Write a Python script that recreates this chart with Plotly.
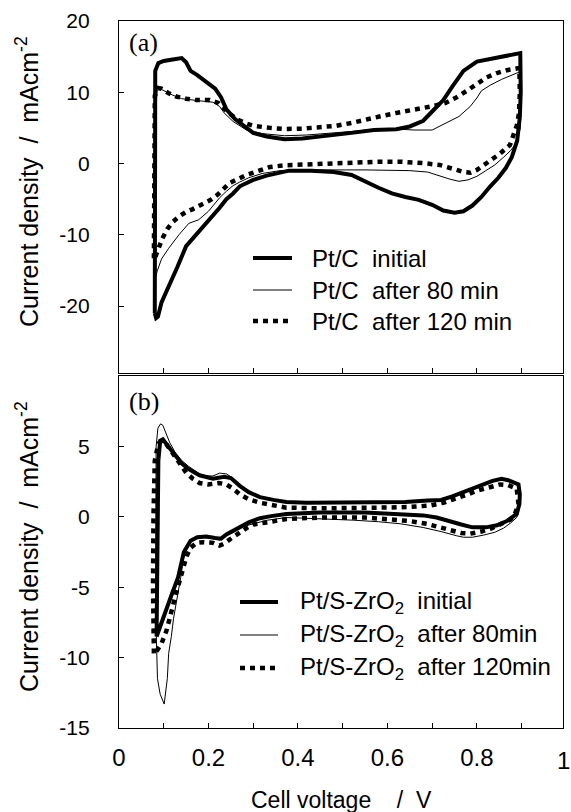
import plotly.graph_objects as go

# Cyclic voltammograms, (cell voltage / V, current density / mA cm^-2), closed loops
ptc_initial = [(0.080,-21.0),(0.080,-12.0),(0.080,0.0),(0.080,8.0),(0.081,13.0),(0.088,14.1),(0.100,14.4),(0.120,14.6),
               (0.140,14.8),(0.150,14.2),(0.160,13.0),(0.175,12.4),(0.195,11.5),(0.215,10.5),(0.228,9.3),(0.240,7.6),
               (0.260,6.2),(0.280,5.2),(0.300,4.3),(0.330,3.8),(0.370,3.4),(0.410,3.5),(0.460,3.8),(0.520,4.3),
               (0.570,4.7),(0.620,4.8),(0.650,5.2),(0.680,6.0),(0.700,7.3),(0.725,8.9),(0.745,10.8),(0.770,13.0),
               (0.800,14.3),(0.840,14.8),(0.870,15.1),(0.897,15.5),(0.898,10.0),(0.896,6.5),(0.890,3.2),(0.878,0.9),
               (0.865,-0.6),(0.848,-2.0),(0.830,-3.2),(0.810,-4.7),(0.790,-5.9),(0.770,-6.7),(0.750,-6.9),(0.725,-6.6),
               (0.700,-5.8),(0.670,-5.1),(0.640,-4.7),(0.610,-4.2),(0.580,-3.4),(0.550,-2.5),(0.520,-1.6),(0.480,-1.2),
               (0.430,-1.0),(0.380,-1.0),(0.330,-1.7),(0.300,-2.3),(0.270,-3.2),(0.255,-4.2),(0.240,-5.0),(0.225,-6.2),
               (0.210,-7.3),(0.195,-8.5),(0.175,-9.8),(0.150,-11.6),(0.130,-14.6),(0.110,-17.3),(0.095,-19.5),
               (0.087,-21.5),(0.083,-21.7),(0.080,-21.0)]

ptc_80min = [(0.082,-15.8),(0.081,-10.0),(0.081,0.0),(0.082,8.0),(0.086,10.6),(0.095,10.4),(0.120,9.6),(0.140,9.1),
             (0.180,8.8),(0.210,8.6),(0.225,8.0),(0.235,7.1),(0.255,5.9),(0.285,4.7),(0.320,4.2),(0.370,3.9),
             (0.420,4.0),(0.470,4.2),(0.520,4.5),(0.570,4.8),(0.600,4.9),(0.630,4.8),(0.660,4.7),(0.700,4.7),
             (0.730,5.6),(0.760,6.6),(0.785,8.0),(0.800,9.2),(0.810,10.2),(0.830,11.0),(0.855,11.8),(0.875,12.3),
             (0.897,12.9),(0.898,9.0),(0.897,5.0),(0.890,3.0),(0.875,1.8),(0.860,0.9),(0.840,-0.2),(0.820,-1.0),
             (0.800,-1.8),(0.780,-2.3),(0.760,-2.5),(0.740,-2.2),(0.715,-1.7),(0.690,-1.2),(0.650,-1.0),(0.610,-0.95),
             (0.550,-0.9),(0.450,-0.9),(0.400,-0.9),(0.360,-1.0),(0.320,-1.4),(0.290,-2.0),(0.270,-2.6),(0.255,-3.1),
             (0.240,-3.9),(0.225,-4.8),(0.200,-6.7),(0.178,-7.9),(0.156,-8.4),(0.134,-10.0),(0.111,-11.9),
             (0.095,-13.4),(0.086,-15.0),(0.082,-15.8)]

ptc_120min = [(0.078,-13.3),(0.078,-5.0),(0.078,5.0),(0.080,9.5),(0.088,10.6),(0.095,10.5),(0.110,9.9),(0.128,9.4),
              (0.150,9.1),(0.173,8.9),(0.203,8.9),(0.222,8.5),(0.240,7.4),(0.263,6.2),(0.285,5.6),(0.300,5.3),
              (0.337,5.0),(0.370,4.85),(0.412,4.9),(0.450,5.05),(0.486,5.3),(0.520,5.7),(0.561,6.2),(0.590,6.7),
              (0.620,7.1),(0.650,7.4),(0.680,7.8),(0.705,8.1),(0.730,8.5),(0.755,9.3),(0.780,10.3),(0.800,11.2),
              (0.822,12.1),(0.845,12.7),(0.867,13.1),(0.895,13.4),(0.896,10.0),(0.894,7.0),(0.889,5.3),(0.880,3.7),
              (0.874,2.6),(0.852,1.4),(0.822,0.05),(0.800,-0.9),(0.785,-1.3),(0.770,-1.2),(0.755,-0.9),(0.735,-0.5),
              (0.717,-0.2),(0.680,0.05),(0.630,0.25),(0.580,0.25),(0.524,0.14),(0.470,0.05),(0.412,-0.05),
              (0.370,-0.25),(0.337,-0.5),(0.310,-1.0),(0.285,-1.6),(0.265,-2.2),(0.248,-2.7),(0.233,-3.6),
              (0.220,-4.4),(0.205,-5.1),(0.185,-5.8),(0.165,-6.4),(0.150,-6.8),(0.135,-7.4),(0.120,-8.2),
              (0.108,-9.2),(0.097,-10.5),(0.090,-11.6),(0.085,-12.8),(0.080,-13.3),(0.078,-13.3)]

pts_initial = [(0.084,-8.5),(0.086,-4.0),(0.087,0.0),(0.088,4.0),(0.092,5.4),(0.098,5.5),(0.110,5.0),(0.125,4.4),
               (0.140,3.8),(0.155,3.4),(0.180,2.95),(0.210,2.7),(0.235,2.85),(0.250,2.75),(0.270,2.2),(0.290,1.75),
               (0.315,1.4),(0.345,1.2),(0.374,1.05),(0.420,1.0),(0.500,1.0),(0.580,1.0),(0.640,1.05),(0.690,1.15),
               (0.720,1.2),(0.745,1.45),(0.765,1.7),(0.790,2.0),(0.810,2.2),(0.835,2.55),(0.855,2.7),(0.870,2.6),
               (0.893,2.3),(0.896,1.6),(0.895,0.9),(0.889,0.2),(0.867,-0.3),(0.845,-0.6),(0.820,-0.75),(0.790,-0.75),
               (0.765,-0.55),(0.740,-0.3),(0.710,-0.05),(0.680,0.1),(0.630,0.2),(0.550,0.3),(0.450,0.3),(0.374,0.2),
               (0.340,0.05),(0.315,-0.1),(0.290,-0.4),(0.270,-0.7),(0.255,-1.0),(0.240,-1.25),(0.228,-1.55),
               (0.215,-1.5),(0.195,-1.4),(0.175,-1.45),(0.160,-1.7),(0.145,-2.5),(0.132,-4.3),(0.118,-5.5),
               (0.104,-6.8),(0.094,-7.6),(0.088,-8.2),(0.084,-8.5)]

pts_80min = [(0.101,-13.3),(0.092,-12.6),(0.086,-11.5),(0.083,-8.0),(0.082,-3.0),(0.082,2.0),(0.083,5.0),(0.087,6.3),
             (0.093,6.6),(0.098,6.5),(0.105,6.0),(0.113,5.3),(0.125,4.6),(0.140,4.0),(0.155,3.6),(0.180,3.05),
             (0.195,2.9),(0.210,2.9),(0.225,3.1),(0.240,3.05),(0.255,2.75),(0.270,2.3),(0.290,1.8),(0.315,1.45),
             (0.345,1.2),(0.374,1.05),(0.420,1.0),(0.500,1.0),(0.580,1.0),(0.640,1.05),(0.690,1.1),(0.720,1.2),
             (0.745,1.4),(0.765,1.7),(0.790,2.0),(0.810,2.2),(0.835,2.55),(0.855,2.7),(0.870,2.6),(0.893,2.2),
             (0.896,1.1),(0.893,0.3),(0.889,-0.05),(0.875,-0.45),(0.860,-0.8),(0.840,-1.1),(0.815,-1.3),
             (0.790,-1.45),(0.770,-1.45),(0.755,-1.35),(0.720,-1.05),(0.680,-0.76),(0.630,-0.5),(0.580,-0.35),
             (0.524,-0.24),(0.450,-0.12),(0.374,-0.05),(0.330,-0.25),(0.300,-0.5),(0.270,-0.75),(0.250,-1.1),
             (0.235,-1.4),(0.225,-1.65),(0.210,-1.55),(0.190,-1.45),(0.175,-1.45),(0.165,-1.6),(0.155,-2.0),
             (0.145,-2.8),(0.138,-4.3),(0.130,-5.8),(0.122,-7.2),(0.117,-8.5),(0.111,-9.7),(0.108,-11.5),
             (0.105,-12.5),(0.101,-13.3)]

pts_120min = [(0.078,-9.7),(0.076,-5.0),(0.077,0.0),(0.080,4.0),(0.088,5.2),(0.096,5.4),(0.105,5.2),(0.121,4.5),
              (0.135,3.8),(0.151,3.1),(0.165,2.7),(0.180,2.4),(0.200,2.3),(0.223,2.4),(0.240,2.3),(0.255,2.0),
              (0.270,1.6),(0.290,1.25),(0.315,1.0),(0.345,0.8),(0.374,0.65),(0.450,0.6),(0.550,0.6),(0.606,0.66),
              (0.650,0.7),(0.695,0.8),(0.725,1.0),(0.755,1.3),(0.780,1.6),(0.800,1.85),(0.825,2.1),(0.852,2.3),
              (0.870,2.25),(0.889,2.0),(0.893,0.9),(0.885,0.2),(0.875,-0.2),(0.852,-0.55),(0.830,-0.85),
              (0.810,-1.05),(0.785,-1.2),(0.765,-1.15),(0.745,-1.0),(0.720,-0.8),(0.688,-0.5),(0.650,-0.3),
              (0.606,-0.16),(0.550,-0.05),(0.450,-0.05),(0.374,-0.16),(0.330,-0.4),(0.300,-0.55),(0.285,-0.8),
              (0.265,-1.2),(0.248,-1.6),(0.235,-1.9),(0.225,-2.05),(0.210,-1.85),(0.190,-1.8),(0.173,-1.85),
              (0.160,-2.2),(0.151,-2.8),(0.143,-3.6),(0.136,-4.5),(0.128,-5.4),(0.121,-6.2),(0.113,-7.1),
              (0.106,-8.1),(0.095,-9.0),(0.085,-9.5),(0.078,-9.7)]

labels_a = ["Pt/C\u00a0\u00a0initial", "Pt/C\u00a0\u00a0after 80 min", "Pt/C\u00a0\u00a0after 120 min"]
labels_b = ["Pt/S-ZrO<sub>2</sub>\u00a0\u00a0initial", "Pt/S-ZrO<sub>2</sub>\u00a0\u00a0after 80min",
            "Pt/S-ZrO<sub>2</sub>\u00a0\u00a0after 120min"]

x_tickvals = [0, 0.2, 0.4, 0.6, 0.8]
x_ticktext = ["0", "0.2", "0.4", "0.6", "0.8"]
x_minorvals = [0.1, 0.3, 0.5, 0.7, 0.9]
x_last_label = "1"
ya_tickvals = [-20, -10, 0, 10, 20]
ya_ticktext = ["-20", "-10", "0", "10", "20"]
yb_tickvals = [-15, -10, -5, 0, 5]
yb_ticktext = ["-15", "-10", "-5", "0", "5"]

SANS = "Liberation Sans, Arial, sans-serif"
SERIF = "Liberation Serif, Times New Roman, serif"

styles = [
    dict(color="black", width=4),                    # initial
    dict(color="black", width=1),                    # after 80 min
    dict(color="black", width=4.5, dash="5px,5px"),  # after 120 min
]

fig = go.Figure()


def add_loop(pairs, style, xa, ya):
    xs = [p[0] for p in pairs]
    ys = [p[1] for p in pairs]
    fig.add_trace(go.Scatter(x=xs, y=ys, mode="lines", line=style,
                             xaxis=xa, yaxis=ya, showlegend=False, hoverinfo="skip"))


for pairs, st in zip([ptc_80min, ptc_120min, ptc_initial], [styles[1], styles[2], styles[0]]):
    add_loop(pairs, st, "x", "y")
for pairs, st in zip([pts_80min, pts_120min, pts_initial], [styles[1], styles[2], styles[0]]):
    add_loop(pairs, st, "x2", "y2")

W, H = 571, 812
L, R, T, B = 119, 8, 21, 84
ph = H - T - B
dom_b_top = (H - B - 376) / ph
dom_a_bot = (H - B - 373) / ph
pw = W - L - R
x_range = [0, 0.9925]


def px_x(px):
    return (px - L) / pw


def px_y(py):
    return (H - B - py) / ph


axis_common = dict(showline=True, linecolor="black", linewidth=1.2, mirror=True,
                   ticks="inside", ticklen=5, tickcolor="black", tickwidth=1,
                   showgrid=False, zeroline=False)
x_minor = dict(tickvals=x_minorvals, ticks="inside", ticklen=5, tickcolor="black",
               tickwidth=1, showgrid=False)

fig.update_layout(
    width=W, height=H,
    margin=dict(l=L, r=R, t=T, b=B, pad=0),
    paper_bgcolor="white", plot_bgcolor="white",
    showlegend=False,
    xaxis=dict(axis_common, domain=[0, 1], range=x_range, anchor="y",
               tickvals=x_tickvals, showticklabels=False, minor=x_minor),
    yaxis=dict(axis_common, domain=[dom_a_bot, 1], range=[-29.4, 20], anchor="x",
               tickvals=ya_tickvals, ticktext=ya_ticktext,
               tickfont=dict(family=SANS, size=21, color="black"), ticklabelstandoff=24),
    xaxis2=dict(axis_common, domain=[0, 1], range=x_range, anchor="y2",
                tickvals=x_tickvals, ticktext=x_ticktext, minor=x_minor,
                tickfont=dict(family=SANS, size=24, color="black"), ticklabelstandoff=8),
    yaxis2=dict(axis_common, domain=[0, dom_b_top], range=[-15, 10], anchor="x2",
                tickvals=yb_tickvals, ticktext=yb_ticktext,
                tickfont=dict(family=SANS, size=21, color="black"), ticklabelstandoff=24),
)

annotations = []
shapes = []

# axis titles
ytitle = "Current density\u00a0\u00a0/\u00a0\u00a0mAcm<sup>-2</sup>"
for cy in (182, 547):
    annotations.append(dict(text=ytitle, textangle=-90, xref="paper", yref="paper",
                            x=px_x(27), y=px_y(cy), xanchor="center", yanchor="middle",
                            showarrow=False, font=dict(family=SANS, size=25, color="black")))
annotations.append(dict(text="Cell voltage\u00a0\u00a0\u00a0\u00a0/\u00a0\u00a0V", xref="paper", yref="paper",
                        x=0.5, y=px_y(800), xanchor="center", yanchor="middle", showarrow=False,
                        font=dict(family=SANS, size=23, color="black")))
# last x tick label (x = 1) sits just past the right frame, flush with the page edge
annotations.append(dict(text=x_last_label, xref="paper", yref="paper", x=px_x(W - 0.5), y=px_y(760),
                        xanchor="right", yanchor="middle", showarrow=False, borderpad=0,
                        font=dict(family=SANS, size=24, color="black")))
# panel tags
for tag, cy in (("(a)", 43), ("(b)", 401)):
    annotations.append(dict(text=tag, xref="paper", yref="paper", x=px_x(127), y=px_y(cy),
                            xanchor="left", yanchor="middle", showarrow=False,
                            font=dict(family=SERIF, size=26, color="black")))

# legends
order = [styles[0], styles[1], styles[2]]
for labels, lx0, lx1, tx, rows in ((labels_a, 253, 292, 310, (258, 290, 321)),
                                   (labels_b, 240, 278, 298, (602, 635, 668))):
    for lab, st, ry in zip(labels, order, rows):
        shapes.append(dict(type="line", xref="paper", yref="paper",
                           x0=px_x(lx0), x1=px_x(lx1), y0=px_y(ry), y1=px_y(ry), line=st))
        annotations.append(dict(text=lab, xref="paper", yref="paper", x=px_x(tx), y=px_y(ry),
                                xanchor="left", yanchor="middle", showarrow=False,
                                font=dict(family=SANS, size=24, color="black")))

fig.update_layout(annotations=annotations, shapes=shapes)
fig.write_html("out.html")
